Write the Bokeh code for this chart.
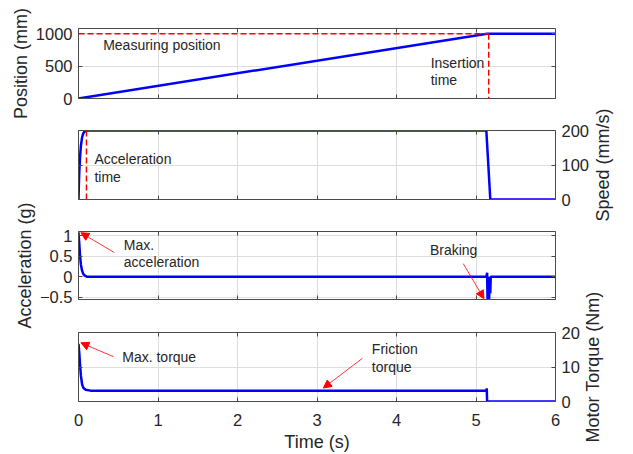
import math
from bokeh.plotting import figure
from bokeh.layouts import column
from bokeh.models import LinearAxis, FixedTicker, Range1d, Label, Arrow, NormalHead
from bokeh.embed import file_html
from bokeh.resources import INLINE

# ---------------- data ----------------
time_ticks = [0, 1, 2, 3, 4, 5, 6]

pos_t = [0, 5.14, 6]
pos_v = [0, 1000, 1000]
pos_ticks = [0, 500, 1000]

speed_t = [0, 0.005, 0.01, 0.02, 0.03, 0.045, 0.06, 0.08, 0.1, 5.13, 5.18, 6]
speed_v = [0, 45, 80, 125, 155, 180, 192, 198, 200, 200, 0, 0]
speed_ticks = [0, 100, 200]

acc_t = [0, 0.01, 0.02, 0.03, 0.045, 0.06, 0.08, 0.11, 5.13, 5.14, 5.145, 5.155,
         5.165, 5.175, 5.18, 5.185, 6]
acc_v = [1.08, 0.8, 0.5, 0.3, 0.15, 0.07, 0.03, 0.0, 0.0, 0.1, -0.55, 0.0,
         -0.55, 0.0, -0.4, 0.0, 0.0]
acc_ticks = [-0.5, 0, 0.5, 1]

torque_t = [0, 0.01, 0.02, 0.03, 0.045, 0.06, 0.09, 0.15, 5.13, 5.135, 5.14, 6]
torque_v = [16.7, 14, 10.5, 7.5, 5.0, 4.0, 3.4, 3.15, 3.15, 3.8, 0, 0]
torque_ticks = [0, 10, 20]

insertion_time = 5.16
acceleration_time = 0.1
measuring_position = 1000

# ---------------- styling ----------------
FONT = "Liberation Sans"
TXT = "#262626"
AX = "#4a4a4a"
BLUE = "#0000ff"
RED = "#ff0000"
W, H = 633, 454
FL, FR = 78, 555   # frame left / right in pixels
STACK = {"margin-top": f"-{H}px"}


def style_axis(ax, labels=True):
    ax.major_tick_in = 4
    ax.major_tick_out = 0
    ax.minor_tick_in = 0
    ax.minor_tick_out = 0
    ax.axis_line_color = AX
    ax.major_tick_line_color = AX
    ax.major_label_text_font = FONT
    ax.major_label_text_color = TXT
    ax.axis_label_text_font = FONT
    ax.axis_label_text_color = TXT
    ax.axis_label_text_font_style = "normal"
    ax.axis_label_text_font_size = "18px"
    if labels:
        ax.major_label_text_font_size = "16.5px"
        ax.major_label_standoff = 6
    else:
        ax.major_label_text_font_size = "1px"
        ax.major_label_text_color = None
        ax.major_label_standoff = 0


def make_fig(ftop, fbot, yr, yticks, yside, ylabel=None, xlabel=None, first=False):
    kw = {} if first else {"styles": STACK}
    p = figure(width=W, height=H,
               x_range=Range1d(0, 6), y_range=Range1d(*yr),
               output_backend="svg", toolbar_location=None, y_axis_location=yside,
               min_border_left=FL, min_border_right=W - FR,
               min_border_top=ftop, min_border_bottom=H - fbot, **kw)
    p.outline_line_color = None
    p.background_fill_color = None
    p.border_fill_color = None
    xa = p.xaxis[0]
    xa.ticker = FixedTicker(ticks=time_ticks)
    style_axis(xa, labels=xlabel is not None)
    if xlabel:
        xa.axis_label = xlabel
        xa.major_label_standoff = 12
        xa.axis_label_standoff = 3
    ya = p.yaxis[0]
    ya.ticker = FixedTicker(ticks=yticks)
    style_axis(ya)
    if ylabel:
        ya.axis_label = ylabel
        ya.axis_label_standoff = 2
    top_ax = LinearAxis(ticker=FixedTicker(ticks=time_ticks))
    style_axis(top_ax, labels=False)
    p.add_layout(top_ax, "above")
    other = LinearAxis(ticker=FixedTicker(ticks=yticks))
    style_axis(other, labels=False)
    p.add_layout(other, "right" if yside == "left" else "left")
    p.xgrid.grid_line_color = "#dedede"
    p.ygrid.grid_line_color = "#dedede"
    return p


def right_title(text, start_y, standoff):
    """Transparent stacked helper whose right axis carries a bottom-to-top title.
    The title starts at the helper frame's centre (start_y) and runs upward."""
    q = figure(width=W, height=H, x_range=Range1d(0, 1), y_range=Range1d(0, 1),
               output_backend="svg", toolbar_location=None,
               x_axis_location=None, y_axis_location="right",
               min_border_left=FL, min_border_right=W - FR,
               min_border_top=start_y - 5, min_border_bottom=H - start_y - 5,
               styles=STACK)
    q.outline_line_color = None
    q.background_fill_color = None
    q.border_fill_color = None
    q.grid.grid_line_color = None
    ax = q.yaxis[0]
    ax.ticker = FixedTicker(ticks=[])
    style_axis(ax)
    ax.major_label_standoff = 0
    ax.axis_line_color = None
    ax.major_tick_line_color = None
    ax.axis_label = text
    ax.axis_label_standoff = standoff
    ax.axis_label_orientation = math.pi / 2
    return q


def add_label(p, x, y, text):
    p.add_layout(Label(x=x, y=y, text=text, text_font=FONT, text_font_size="14px",
                       text_color=TXT, text_baseline="middle", text_align="left"))


def add_arrow(p, x0, y0, x1, y1):
    p.add_layout(Arrow(x_start=x0, y_start=y0, x_end=x1, y_end=y1,
                       line_color=RED, line_width=1, line_alpha=0.8,
                       end=NormalHead(size=8, fill_color=RED, line_color=RED)))


def add_dashed(p, x0, y0, x1, y1):
    p.add_layout(Arrow(x_start=x0, y_start=y0, x_end=x1, y_end=y1, end=None,
                       line_color=RED, line_dash="6 3", line_width=1.5))


# Panel 1: position
p1 = make_fig(28, 98, (0, 1080), pos_ticks, "left", "Position (mm)", first=True)
add_dashed(p1, 0, measuring_position, insertion_time, measuring_position)
add_dashed(p1, insertion_time, measuring_position, insertion_time, -110)
p1.line(pos_t, pos_v, line_color=BLUE, line_width=2.5)
add_label(p1, 0.31, 833, "Measuring position")
add_label(p1, 4.43, 555, "Insertion")
add_label(p1, 4.43, 278, "time")

# Panel 2: speed
p2 = make_fig(130, 199, (0, 200), speed_ticks, "right")
add_dashed(p2, acceleration_time, 200, acceleration_time, -9)
p2.line(speed_t, speed_v, line_color=BLUE, line_width=2.5)
add_label(p2, 0.2, 116, "Acceleration")
add_label(p2, 0.2, 64, "time")

# Panel 3: acceleration
p3 = make_fig(231, 299, (-0.55, 1.1), acc_ticks, "left", "Acceleration (g)")
p3.line(acc_t, acc_v, line_color=BLUE, line_width=2.5)
add_label(p3, 0.57, 0.78, "Max.")
add_label(p3, 0.57, 0.35, "acceleration")
add_arrow(p3, 0.45, 0.59, 0.03, 1.07)
add_label(p3, 4.42, 0.64, "Braking")
add_arrow(p3, 4.84, 0.32, 5.1, -0.53)

# Panel 4: torque
p4 = make_fig(332, 401, (0, 20), torque_ticks, "right", xlabel="Time (s)")
p4.line(torque_t, torque_v, line_color=BLUE, line_width=2.5)
add_label(p4, 0.55, 13.0, "Max. torque")
add_arrow(p4, 0.44, 13.0, 0.03, 17.0)
add_label(p4, 3.69, 15.1, "Friction")
add_label(p4, 3.69, 10.1, "torque")
add_arrow(p4, 3.57, 12.5, 3.08, 3.9)

# right-hand titles (reading bottom-to-top, centred on their panels)
t2 = right_title("Speed (mm/s)", 221, 47)
t4 = right_title("Motor Torque (Nm)", 442, 37)

# the panels are stacked on one canvas area so that long axis titles can overlap
layout = column(p1, p2, p3, p4, t2, t4, spacing=0)
open("out.html", "w").write(file_html(layout, INLINE))
